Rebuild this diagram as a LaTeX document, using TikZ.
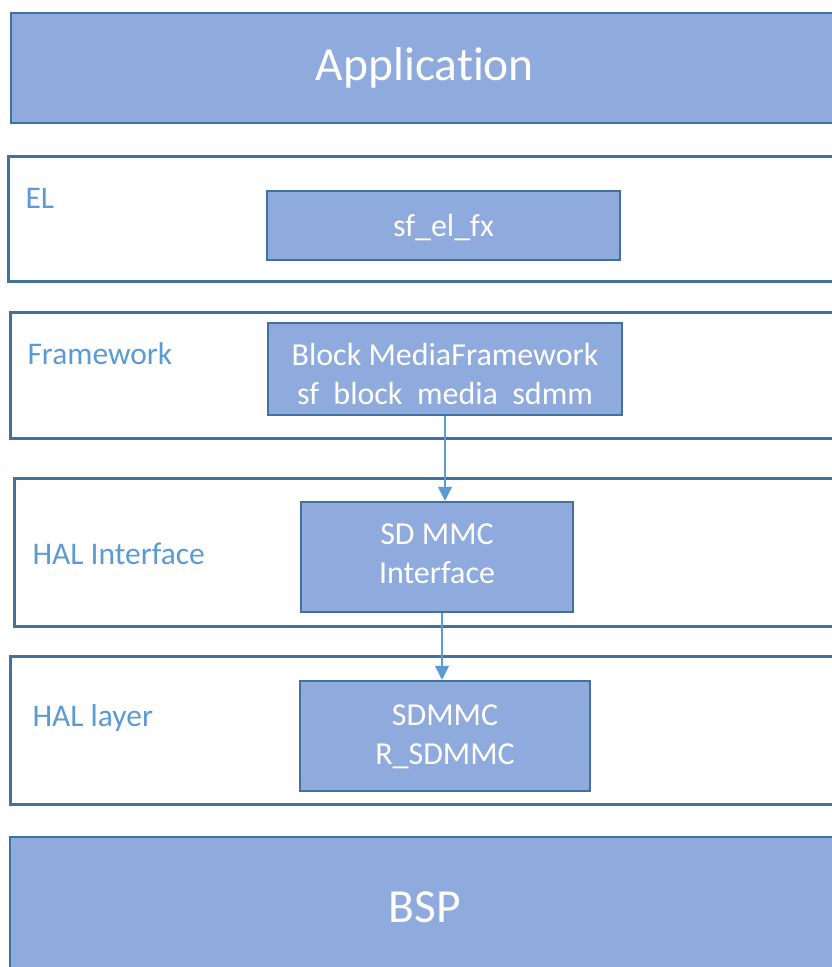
\documentclass[tikz,border=0pt]{standalone}
\usepackage{fontspec}
\setmainfont{Carlito}[Ligatures=NoCommon]
\usepackage{xcolor}
\usetikzlibrary{arrows.meta}
\definecolor{layerfill}{HTML}{8FAADC}
\definecolor{layerline}{HTML}{41719C}
\definecolor{labelblue}{HTML}{5B9BD5}
\tikzset{
  bigbox/.style={draw=layerline,fill=layerfill,line width=2.5pt,text=white,
    font=\fontsize{47.5}{54}\selectfont,inner sep=0pt},
  layerbox/.style={draw=layerline,fill=white,line width=2.5pt,anchor=north west,inner sep=0pt},
  modbox/.style={draw=layerline,fill=layerfill,line width=2.5pt,inner sep=0pt},
  modtext/.style={text=white,align=center,font=\fontsize{32}{39}\selectfont},
  layerlabel/.style={text=labelblue,anchor=west,font=\fontsize{31.5}{36}\selectfont},
  flow/.style={draw=labelblue,line width=1.4pt,-{Triangle[width=14pt,length=14pt]}}
}
\begin{document}
\begin{tikzpicture}[x=1pt,y=-1pt]
\useasboundingbox (0,0) rectangle (832,967);
\clip (0,0) rectangle (832,967);
\fill[white] (0,0) rectangle (832,967);

\node[bigbox,minimum width=828pt,minimum height=110pt] (app) at (425,68) {Application};

\node[layerbox,minimum width=840pt,minimum height=125pt] (el) at (7,155) {};
\node[layerlabel] (ellabel) at (22,198) {EL};
\node[modbox,minimum width=353pt,minimum height=69pt] (elbox) at (443.5,225.5) {};
\node[modtext] (eltext) at (443.5,228) {sf\_el\_fx};

\node[layerbox,minimum width=840pt,minimum height=126pt] (fw) at (9,311) {};
\node[layerlabel] (fwlabel) at (24,354) {Framework};
\node[modbox,minimum width=354pt,minimum height=92pt] (fwbox) at (445,369) {};
\node[modtext] (fwtext) at (445,374) {Block MediaFramework\\sf\ \ block\ \ media\ \ sdmm};

\node[layerbox,minimum width=840pt,minimum height=148pt] (hi) at (13,477) {};
\node[layerlabel] (hilabel) at (29,554) {HAL Interface};
\node[modbox,minimum width=272pt,minimum height=110pt] (hibox) at (437,557) {};
\node[modtext] (hitext) at (437,554) {SD MMC\\Interface};

\node[layerbox,minimum width=840pt,minimum height=148pt] (hl) at (9,655) {};
\node[layerlabel] (hllabel) at (29,718) {HAL layer};
\node[modbox,minimum width=290pt,minimum height=110pt] (hlbox) at (445,736) {};
\node[modtext] (hltext) at (445,737) {SDMMC\\R\_SDMMC};

\node[bigbox,minimum width=830pt,minimum height=140pt] (bsp) at (425,907) {BSP};

\draw[flow] (fwbox.south) -- (fwbox.south |- hibox.north);
\draw[flow] ([xshift=5pt]hibox.south) -- ([xshift=5pt]hibox.south |- hlbox.north);
\end{tikzpicture}
\end{document}
